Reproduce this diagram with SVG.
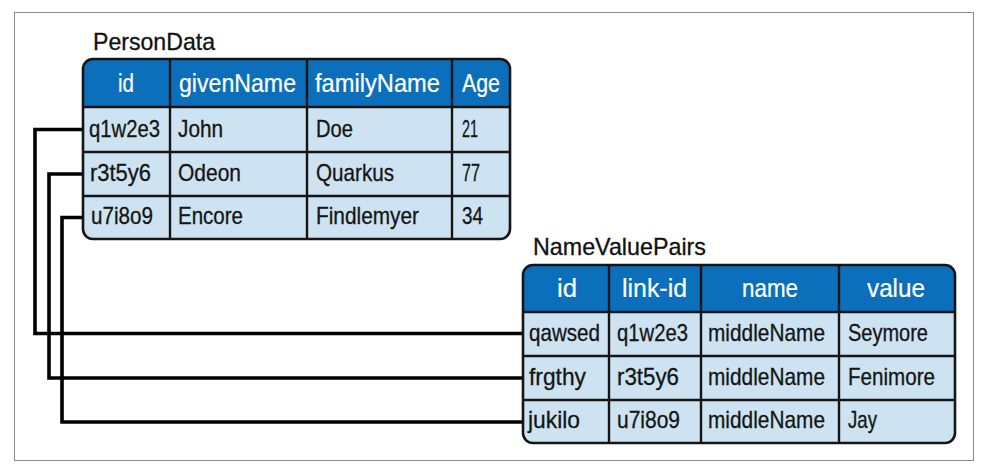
<svg xmlns="http://www.w3.org/2000/svg" width="983" height="470" viewBox="0 0 983 470">
<style>
.frame{fill:none;stroke:#8a8a8a;stroke-width:1}
.body{fill:#cde3f1}
.head{fill:#0b6fbc}
.border{fill:none;stroke:#151515;stroke-width:2.6}
.grid{stroke:#151515;stroke-width:2.4}
.conn{fill:none;stroke:#000;stroke-width:3.6;stroke-linejoin:miter;stroke-linecap:butt}
text{font-family:"Liberation Sans",Arial,sans-serif}
.t{font-size:24px;fill:#111;stroke:#111;stroke-width:0.3}
.h{font-size:25px;fill:#fff;stroke:#fff;stroke-width:0.2}
.c{font-size:24px;fill:#151515;stroke:#151515;stroke-width:0.3}
</style>
<rect x="0" y="0" width="983" height="470" fill="#fff"/>
<rect class="frame" x="14.5" y="12.5" width="959" height="448"/>
<g id="connectors">
<path class="conn" d="M83,129.5 H35 V333.5 H523"/>
<path class="conn" d="M83,174 H49 V378 H523"/>
<path class="conn" d="M83,217.5 H62 V422 H523"/>
</g>
<g id="PersonData">
<text class="t" x="93" y="50" textLength="122" lengthAdjust="spacingAndGlyphs">PersonData</text>
<rect class="body" x="83" y="59" width="427" height="180" rx="10"/>
<path class="head" d="M83,107 V69 A10,10 0 0 1 93,59 H500 A10,10 0 0 1 510,69 V107 Z"/>
<line class="grid" x1="83" y1="107" x2="510" y2="107"/>
<line class="grid" x1="83" y1="152" x2="510" y2="152"/>
<line class="grid" x1="83" y1="196" x2="510" y2="196"/>
<line class="grid" x1="170" y1="59" x2="170" y2="239"/>
<line class="grid" x1="307" y1="59" x2="307" y2="239"/>
<line class="grid" x1="452" y1="59" x2="452" y2="239"/>
<rect class="border" x="83" y="59" width="427" height="180" rx="10"/>
<text class="h" x="118" y="92" textLength="16" lengthAdjust="spacingAndGlyphs">id</text>
<text class="h" x="179" y="92" textLength="117" lengthAdjust="spacingAndGlyphs">givenName</text>
<text class="h" x="315" y="92" textLength="125" lengthAdjust="spacingAndGlyphs">familyName</text>
<text class="h" x="462" y="92" textLength="38" lengthAdjust="spacingAndGlyphs">Age</text>
<text class="c" x="89" y="137" textLength="71" lengthAdjust="spacingAndGlyphs">q1w2e3</text>
<text class="c" x="178" y="137" textLength="45" lengthAdjust="spacingAndGlyphs">John</text>
<text class="c" x="316" y="137" textLength="37" lengthAdjust="spacingAndGlyphs">Doe</text>
<text class="c" x="462" y="137" textLength="16" lengthAdjust="spacingAndGlyphs">21</text>
<text class="c" x="90" y="181" textLength="61" lengthAdjust="spacingAndGlyphs">r3t5y6</text>
<text class="c" x="178" y="181" textLength="63" lengthAdjust="spacingAndGlyphs">Odeon</text>
<text class="c" x="316" y="181" textLength="78" lengthAdjust="spacingAndGlyphs">Quarkus</text>
<text class="c" x="462" y="181" textLength="18" lengthAdjust="spacingAndGlyphs">77</text>
<text class="c" x="91" y="224" textLength="62" lengthAdjust="spacingAndGlyphs">u7i8o9</text>
<text class="c" x="178" y="224" textLength="65" lengthAdjust="spacingAndGlyphs">Encore</text>
<text class="c" x="316" y="224" textLength="103" lengthAdjust="spacingAndGlyphs">Findlemyer</text>
<text class="c" x="462" y="224" textLength="21" lengthAdjust="spacingAndGlyphs">34</text>
</g>
<g id="NameValuePairs">
<text class="t" x="533" y="255" textLength="173" lengthAdjust="spacingAndGlyphs">NameValuePairs</text>
<rect class="body" x="523" y="265" width="432" height="178" rx="10"/>
<path class="head" d="M523,312 V275 A10,10 0 0 1 533,265 H945 A10,10 0 0 1 955,275 V312 Z"/>
<line class="grid" x1="523" y1="312" x2="955" y2="312"/>
<line class="grid" x1="523" y1="356" x2="955" y2="356"/>
<line class="grid" x1="523" y1="400" x2="955" y2="400"/>
<line class="grid" x1="609" y1="265" x2="609" y2="443"/>
<line class="grid" x1="701" y1="265" x2="701" y2="443"/>
<line class="grid" x1="839" y1="265" x2="839" y2="443"/>
<rect class="border" x="523" y="265" width="432" height="178" rx="10"/>
<text class="h" x="557" y="297" textLength="20" lengthAdjust="spacingAndGlyphs">id</text>
<text class="h" x="622" y="297" textLength="65" lengthAdjust="spacingAndGlyphs">link-id</text>
<text class="h" x="742" y="297" textLength="56" lengthAdjust="spacingAndGlyphs">name</text>
<text class="h" x="867" y="297" textLength="58" lengthAdjust="spacingAndGlyphs">value</text>
<text class="c" x="529" y="341" textLength="71" lengthAdjust="spacingAndGlyphs">qawsed</text>
<text class="c" x="617" y="341" textLength="71" lengthAdjust="spacingAndGlyphs">q1w2e3</text>
<text class="c" x="708" y="341" textLength="117" lengthAdjust="spacingAndGlyphs">middleName</text>
<text class="c" x="848" y="341" textLength="80" lengthAdjust="spacingAndGlyphs">Seymore</text>
<text class="c" x="529" y="385" textLength="57" lengthAdjust="spacingAndGlyphs">frgthy</text>
<text class="c" x="617" y="385" textLength="62" lengthAdjust="spacingAndGlyphs">r3t5y6</text>
<text class="c" x="708" y="385" textLength="117" lengthAdjust="spacingAndGlyphs">middleName</text>
<text class="c" x="848" y="385" textLength="87" lengthAdjust="spacingAndGlyphs">Fenimore</text>
<text class="c" x="528" y="428" textLength="52" lengthAdjust="spacingAndGlyphs">jukilo</text>
<text class="c" x="617" y="428" textLength="63" lengthAdjust="spacingAndGlyphs">u7i8o9</text>
<text class="c" x="708" y="428" textLength="117" lengthAdjust="spacingAndGlyphs">middleName</text>
<text class="c" x="848" y="428" textLength="29" lengthAdjust="spacingAndGlyphs">Jay</text>
</g>
</svg>
